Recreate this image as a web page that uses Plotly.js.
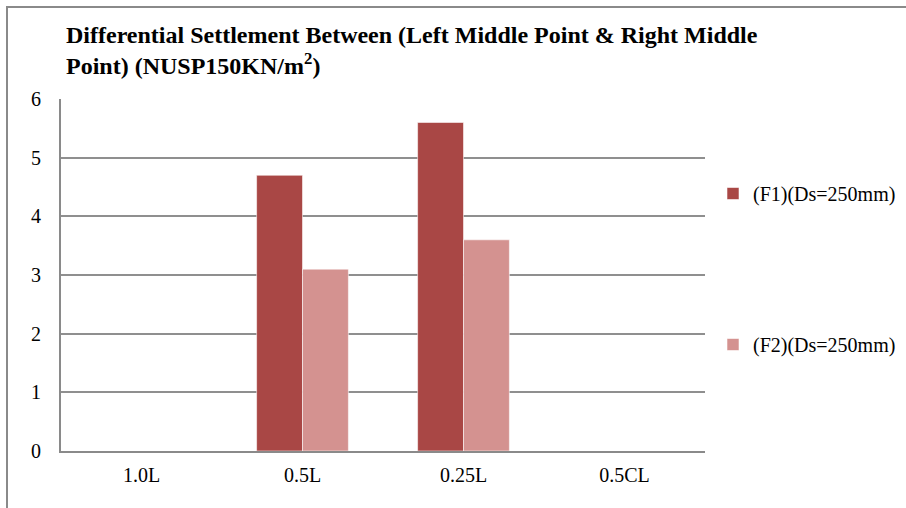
<!DOCTYPE html>
<html>
<head>
<meta charset="utf-8">
<script src="https://cdn.plot.ly/plotly-3.0.1.min.js"></script>
<style>
  html, body { margin: 0; padding: 0; background: #fff; }
  #wrap { position: relative; width: 906px; height: 508px; }
  #chart { position: absolute; left: 0; top: 0; width: 906px; height: 508px; }
  #frame { position: absolute; left: 6px; top: 6px; right: 0; bottom: 0;
           border-top: 2px solid #8a8a8a; border-left: 2px solid #8a8a8a;
           pointer-events: none; }
</style>
</head>
<body>
<div id="wrap">
  <div id="chart"></div>
  <div id="frame"></div>
</div>
<script>
// Measurement positions along the footing
const categories = ['1.0L', '0.5L', '0.25L', '0.5CL'];

// Differential settlement values for each footing case
const f1Values = [0, 4.7, 5.6, 0];
const f2Values = [0, 3.1, 3.6, 0];

const seriesNames = ['(F1)(Ds=250mm)', '(F2)(Ds=250mm)'];
const yTicks = [0, 1, 2, 3, 4, 5, 6];

const serif = 'Liberation Serif, Times New Roman, serif';

const traces = [
  {
    type: 'bar',
    name: seriesNames[0],
    x: categories,
    y: f1Values,
    legendgroup: 'f1',
    marker: { color: '#a94745', line: { color: 'rgba(255,255,255,0.55)', width: 1 } }
  },
  {
    type: 'bar',
    name: seriesNames[1],
    x: categories,
    y: f2Values,
    legendgroup: 'f2',
    marker: { color: '#d49290', line: { color: 'rgba(255,255,255,0.55)', width: 1 } }
  }
];

const layout = {
  width: 906,
  height: 508,
  paper_bgcolor: '#ffffff',
  plot_bgcolor: '#ffffff',
  margin: { l: 61, r: 201, t: 99, b: 57 },
  barmode: 'group',
  bargap: 0.43,
  bargroupgap: 0,
  title: {
    text: '<b>Differential Settlement Between (Left Middle Point &amp; Right Middle<br>Point) (NUSP150KN/m<sup>2</sup>)</b>',
    font: { family: serif, size: 24, color: '#000' },
    x: 66 / 906,
    xanchor: 'left',
    xref: 'container',
    y: 1 - 43 / 508,
    yanchor: 'top',
    yref: 'container'
  },
  xaxis: {
    type: 'category',
    showline: true,
    linecolor: '#8a8a8a',
    linewidth: 2,
    ticks: '',
    showgrid: false,
    tickfont: { family: serif, size: 20, color: '#000' },
    ticklabelstandoff: 5,
    zeroline: false
  },
  yaxis: {
    range: [0, 6],
    tickvals: yTicks,
    ticktext: yTicks.map(String),
    showline: true,
    linecolor: '#8a8a8a',
    linewidth: 2,
    showgrid: true,
    gridcolor: '#8f8f8f',
    gridwidth: 2,
    zeroline: false,
    ticks: '',
    tickfont: { family: serif, size: 20, color: '#000' },
    ticklabelstandoff: 14
  },
  showlegend: true,
  legend: {
    x: 713 / 906,
    xref: 'container',
    xanchor: 'left',
    y: 1 - 174 / 508,
    yref: 'container',
    yanchor: 'top',
    traceorder: 'grouped',
    tracegroupgap: 122,
    font: { family: serif, size: 20, color: '#000' },
    itemwidth: 30,
    bgcolor: 'rgba(0,0,0,0)'
  }
};

Plotly.newPlot('chart', traces, layout, { displayModeBar: false, staticPlot: true });
</script>
</body>
</html>
